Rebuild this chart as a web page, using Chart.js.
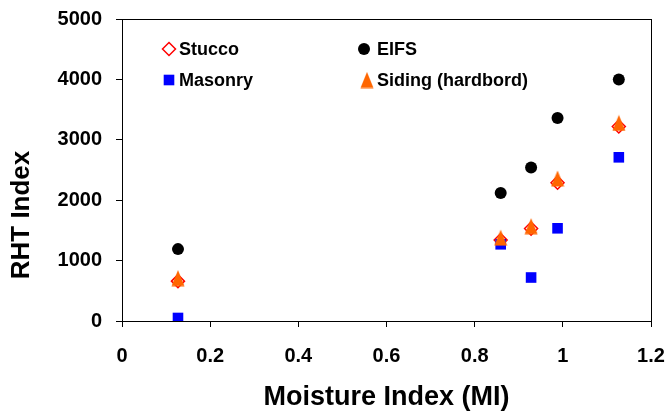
<!DOCTYPE html>
<html>
<head>
<meta charset="utf-8">
<title>RHT Index vs Moisture Index</title>
<script src="https://cdn.jsdelivr.net/npm/chart.js@4.4.1/dist/chart.umd.min.js"></script>
<style>
  body { margin: 0; background: #fff; }
  canvas { display: block; }
</style>
</head>
<body>
<canvas id="rhtChart" width="669" height="413"></canvas>
<script>
// moisture index of each site (shared by all wall types)
const moistureIndex = [0.127, 0.859, 0.928, 0.988, 1.127];

const stuccoRHT  = [660, 1340, 1530, 2290, 3220];
const eifsRHT    = [1190, 2120, 2540, 3360, 4000];
const masonryRHT = [50, 1270, 720, 1535, 2710];
const sidingRHT  = [710, 1380, 1570, 2360, 3280];

const seriesNames = ['Stucco', 'EIFS', 'Masonry', 'Siding (hardbord)'];

const yTicks = [0, 1000, 2000, 3000, 4000, 5000];
const xTicks = [0, 0.2, 0.4, 0.6, 0.8, 1, 1.2];

const FONT = 'Liberation Sans, Arial, Helvetica, sans-serif';

// tall orange triangle like the excel marker
function makeTriangle(color) {
  const c = document.createElement('canvas');
  c.width = 14; c.height = 17;
  const g = c.getContext('2d');
  g.fillStyle = color;
  g.beginPath();
  g.moveTo(7, 0.5);
  g.lineTo(13.5, 16.5);
  g.lineTo(0.5, 16.5);
  g.closePath();
  g.fill();
  return c;
}
const triangle = makeTriangle('#ff6600');

function toPoints(ys) {
  return moistureIndex.map((x, i) => ({ x: x, y: ys[i] }));
}

const datasets = [
  {
    label: seriesNames[0],
    data: toPoints(stuccoRHT),
    pointStyle: 'rectRot',
    pointRadius: 6.5,
    pointBorderColor: '#ff0000',
    pointBackgroundColor: '#ffffff',
    pointBorderWidth: 1.5,
    order: 3
  },
  {
    label: seriesNames[1],
    data: toPoints(eifsRHT),
    pointStyle: 'circle',
    pointRadius: 6,
    pointBorderWidth: 0,
    pointBackgroundColor: '#000000',
    order: 1
  },
  {
    label: seriesNames[2],
    data: toPoints(masonryRHT),
    pointStyle: 'rect',
    pointRadius: 7.5,
    pointBorderWidth: 0,
    pointBackgroundColor: '#0000ff',
    order: 2
  },
  {
    label: seriesNames[3],
    data: toPoints(sidingRHT),
    pointStyle: triangle,
    pointRadius: 8,
    order: 0
  }
];

// legend sits inside the plot, 2 x 2
const legendSpots = [
  { mx: 169, my: 49, tx: 179 },
  { mx: 364, my: 49, tx: 377 },
  { mx: 169, my: 80, tx: 179 },
  { mx: 367, my: 80, tx: 377 }
];

function drawMarker(ctx, ds, x, y) {
  const r = ds.pointRadius;
  ctx.save();
  if (ds.pointStyle === 'circle') {
    ctx.fillStyle = ds.pointBackgroundColor;
    ctx.beginPath();
    ctx.arc(x, y, r, 0, Math.PI * 2);
    ctx.fill();
  } else if (ds.pointStyle === 'rect') {
    const s = r * Math.SQRT1_2;
    ctx.fillStyle = ds.pointBackgroundColor;
    ctx.fillRect(x - s, y - s, 2 * s, 2 * s);
  } else if (ds.pointStyle === 'rectRot') {
    ctx.fillStyle = ds.pointBackgroundColor;
    ctx.strokeStyle = ds.pointBorderColor;
    ctx.lineWidth = ds.pointBorderWidth;
    ctx.beginPath();
    ctx.moveTo(x, y - r);
    ctx.lineTo(x + r, y);
    ctx.lineTo(x, y + r);
    ctx.lineTo(x - r, y);
    ctx.closePath();
    ctx.fill();
    ctx.stroke();
  } else {
    const img = ds.pointStyle;
    ctx.drawImage(img, x - img.width / 2, y - img.height / 2);
  }
  ctx.restore();
}

const extras = {
  id: 'extras',
  beforeDatasetsDraw(chart) {
    const { ctx, chartArea: a } = chart;
    ctx.save();
    ctx.strokeStyle = '#000';
    ctx.lineWidth = 1;
    ctx.strokeRect(Math.round(a.left) + 0.5, Math.round(a.top) + 0.5,
      Math.round(a.right - a.left), Math.round(a.bottom - a.top));
    ctx.restore();
  },
  afterDraw(chart) {
    const ctx = chart.ctx;
    ctx.save();
    // legend
    ctx.font = 'bold 18px ' + FONT;
    ctx.fillStyle = '#000';
    ctx.textBaseline = 'middle';
    ctx.textAlign = 'left';
    datasets.forEach((ds, i) => {
      const p = legendSpots[i];
      drawMarker(ctx, ds, p.mx, p.my);
      ctx.fillStyle = '#000';
      ctx.fillText(ds.label, p.tx, p.my + 1);
    });
    // y axis title (sits lower than the plot middle in the original)
    ctx.translate(22, 215);
    ctx.rotate(-Math.PI / 2);
    ctx.textAlign = 'center';
    ctx.font = 'bold 26px ' + FONT;
    ctx.fillText('RHT Index', 0, 0);
    ctx.restore();
  }
};

new Chart(document.getElementById('rhtChart'), {
  type: 'scatter',
  data: { datasets: datasets },
  options: {
    responsive: false,
    animation: false,
    devicePixelRatio: 1,
    layout: { padding: { top: 19, right: 18, left: 0, bottom: 0 } },
    plugins: {
      legend: { display: false },
      tooltip: { enabled: false }
    },
    scales: {
      x: {
        type: 'linear',
        min: xTicks[0],
        max: xTicks[xTicks.length - 1],
        afterFit: s => {
          s.height = 92;
          s.paddingLeft = 0;
          s.paddingRight = 0;
        },
        afterBuildTicks: s => { s.ticks = xTicks.map(v => ({ value: v })); },
        ticks: {
          color: '#000',
          font: { family: FONT, size: 20, weight: 'bold' },
          padding: 17,
          maxRotation: 0,
          callback: v => String(v)
        },
        grid: { drawOnChartArea: false, color: '#000', tickLength: 6, tickWidth: 1 },
        border: { display: true, color: '#000', width: 1 },
        title: {
          display: true,
          text: 'Moisture Index (MI)',
          color: '#000',
          font: { family: FONT, size: 27, weight: 'bold', lineHeight: 1 },
          padding: { top: 0, bottom: 1.5 }
        }
      },
      y: {
        type: 'linear',
        min: yTicks[0],
        max: yTicks[yTicks.length - 1],
        afterFit: s => {
          s.width = 122;
          s.paddingTop = 0;
          s.paddingBottom = 0;
        },
        afterBuildTicks: s => { s.ticks = yTicks.map(v => ({ value: v })); },
        ticks: {
          color: '#000',
          font: { family: FONT, size: 20, weight: 'bold' },
          padding: 14,
          callback: v => String(v)
        },
        grid: { drawOnChartArea: false, color: '#000', tickLength: 6, tickWidth: 1 },
        border: { display: true, color: '#000', width: 1 }
      }
    }
  },
  plugins: [extras]
});
</script>
</body>
</html>
